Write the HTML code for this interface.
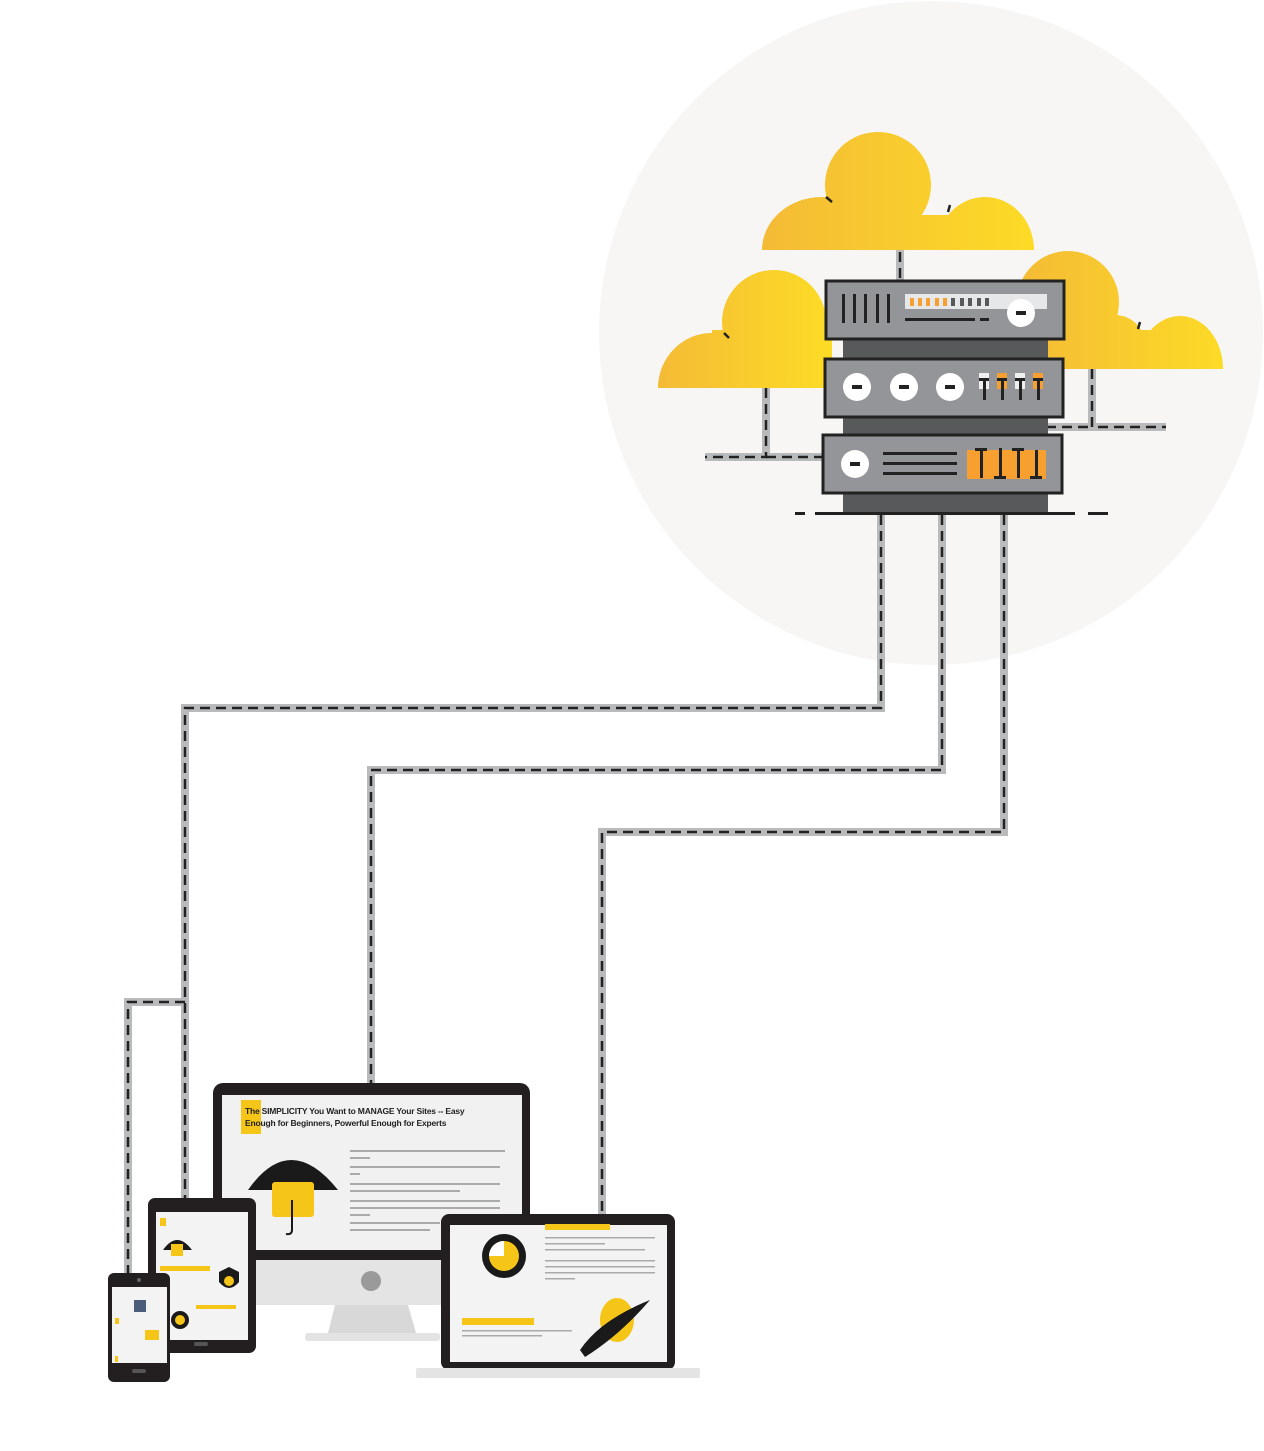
<!DOCTYPE html>
<html><head><meta charset="utf-8"><style>
html,body{margin:0;padding:0;background:#fff;}
svg{display:block;font-family:"Liberation Sans",sans-serif;}
</style></head><body>
<svg width="1264" height="1451" viewBox="0 0 1264 1451" xmlns="http://www.w3.org/2000/svg">
<defs>
<linearGradient id="g1" gradientUnits="userSpaceOnUse" x1="762" x2="1034" y1="0" y2="0"><stop offset="0" stop-color="#f4bb36"/><stop offset="1" stop-color="#fcdb26"/></linearGradient>
<linearGradient id="g2" gradientUnits="userSpaceOnUse" x1="658" x2="826" y1="0" y2="0"><stop offset="0" stop-color="#f4bb36"/><stop offset="1" stop-color="#fcdb26"/></linearGradient>
<linearGradient id="g3" gradientUnits="userSpaceOnUse" x1="1017" x2="1223" y1="0" y2="0"><stop offset="0" stop-color="#f4bb36"/><stop offset="1" stop-color="#fcdb26"/></linearGradient>
<clipPath id="c1"><rect x="700" y="100" width="400" height="150"/></clipPath>
<clipPath id="c2"><rect x="640" y="250" width="200" height="138"/></clipPath>
<clipPath id="c3"><rect x="1000" y="230" width="240" height="139"/></clipPath>
</defs>
<circle cx="931" cy="333" r="332" fill="#f7f6f4"/>
<g fill="none" stroke-linejoin="miter">
<g stroke="#b9babc" stroke-width="8">
<path d="M881 515 V708 H185 V1200"/><path d="M185 1002 H128 V1275"/>
<path d="M942 515 V770 H371 V1083"/>
<path d="M1004 515 V832 H602 V1215"/>
<path d="M900 250 V282"/><path d="M766 388 V457 H705"/><path d="M766 457 H826"/>
<path d="M1092 369 V427 H1166"/><path d="M1046 427 H1092"/>
</g>
<g stroke="#222" stroke-width="2.5" stroke-dasharray="10 6">
<path d="M881 515 V708 H185 V1200"/><path d="M185 1002 H128 V1275"/>
<path d="M942 515 V770 H371 V1083"/>
<path d="M1004 515 V832 H602 V1215"/>
<path d="M900 252 V282"/><path d="M766 388 V457 H705"/><path d="M766 457 H826"/>
<path d="M1092 369 V427 H1166"/><path d="M1046 427 H1092"/>
</g>
</g>
<!-- clouds -->
<g clip-path="url(#c1)" fill="url(#g1)"><circle cx="878" cy="185" r="53"/><ellipse cx="822" cy="250" rx="60" ry="53"/><ellipse cx="985" cy="250" rx="49" ry="53"/><rect x="820" y="215" width="170" height="40"/></g>
<g clip-path="url(#c2)" fill="url(#g2)"><circle cx="774" cy="322" r="52"/><ellipse cx="712" cy="388" rx="54" ry="55"/><rect x="712" y="330" width="120" height="60"/></g>
<g clip-path="url(#c3)" fill="url(#g3)"><circle cx="1068" cy="302" r="51"/><ellipse cx="1180" cy="369" rx="43" ry="53"/><ellipse cx="1115" cy="345" rx="30" ry="30"/><rect x="1017" y="330" width="170" height="40"/></g>
<g stroke="#222" stroke-width="2.5"><path d="M826 197 l6 5"/><path d="M950 205 l-2 7"/><path d="M724 333 l5 5"/><path d="M1140 322 l-2 7"/></g>
<!-- server -->
<rect x="843" y="336" width="205" height="178" fill="#58595b"/>
<g fill="#939598" stroke="#222" stroke-width="3">
<rect x="826" y="281" width="238" height="58"/><rect x="825" y="359" width="238" height="58"/><rect x="823" y="435" width="239" height="58"/>
</g>
<g fill="#222"><rect x="842" y="294" width="3" height="29"/><rect x="853" y="294" width="3" height="29"/><rect x="864" y="294" width="3" height="29"/><rect x="876" y="294" width="3" height="29"/><rect x="887" y="294" width="3" height="29"/></g>
<rect x="905" y="294" width="142" height="15" fill="#e6e7e8"/>
<g fill="#f7a030"><rect x="910" y="298" width="4" height="8"/><rect x="918" y="298" width="4" height="8"/><rect x="926" y="298" width="4" height="8"/><rect x="935" y="298" width="4" height="8"/><rect x="943" y="298" width="4" height="8"/></g>
<g fill="#58595b"><rect x="951" y="298" width="4" height="8"/><rect x="960" y="298" width="4" height="8"/><rect x="968" y="298" width="4" height="8"/><rect x="977" y="298" width="4" height="8"/><rect x="985" y="298" width="4" height="8"/></g>
<rect x="905" y="318" width="70" height="3" fill="#222"/><rect x="980" y="318" width="9" height="3" fill="#222"/>
<g fill="#fff"><circle cx="1021" cy="313" r="14"/><circle cx="857" cy="387" r="14"/><circle cx="904" cy="387" r="14"/><circle cx="950" cy="387" r="14"/><circle cx="855" cy="464" r="14"/></g>
<g fill="#222"><rect x="1016" y="311" width="10" height="4"/><rect x="852" y="385" width="10" height="4"/><rect x="899" y="385" width="10" height="4"/><rect x="945" y="385" width="10" height="4"/><rect x="850" y="462" width="10" height="4"/></g>
<g><rect x="979" y="373" width="10" height="16" fill="#eee"/><rect x="997" y="373" width="10" height="16" fill="#f7a030"/><rect x="1015" y="373" width="10" height="16" fill="#eee"/><rect x="1033" y="373" width="10" height="16" fill="#f7a030"/></g>
<g fill="#222"><rect x="979" y="378" width="10" height="3"/><rect x="983" y="378" width="3" height="22"/><rect x="997" y="378" width="10" height="3"/><rect x="1001" y="378" width="3" height="22"/><rect x="1015" y="378" width="10" height="3"/><rect x="1019" y="378" width="3" height="22"/><rect x="1033" y="378" width="10" height="3"/><rect x="1037" y="378" width="3" height="22"/></g>
<g fill="#222"><rect x="883" y="452" width="74" height="3"/><rect x="883" y="462" width="74" height="3"/><rect x="883" y="472" width="74" height="3"/></g>
<rect x="967" y="450" width="79" height="29" fill="#f7a030"/>
<g fill="#222"><rect x="975" y="448" width="12" height="3"/><rect x="980" y="448" width="3" height="30"/><rect x="994" y="476" width="12" height="3"/><rect x="999" y="448" width="3" height="30"/><rect x="1012" y="448" width="12" height="3"/><rect x="1017" y="448" width="3" height="30"/><rect x="1030" y="476" width="12" height="3"/><rect x="1035" y="450" width="3" height="28"/></g>
<g fill="#222"><rect x="795" y="512" width="10" height="3"/><rect x="815" y="512" width="260" height="3"/><rect x="1088" y="512" width="20" height="3"/></g>
<!-- monitor -->
<rect x="213" y="1083" width="317" height="180" rx="10" fill="#231f20"/>
<rect x="222" y="1095" width="300" height="155" fill="#f1f1f1"/>
<rect x="222" y="1260" width="300" height="45" fill="#e4e4e4"/>
<circle cx="371" cy="1281" r="10" fill="#9a9a9a"/>
<path d="M335 1305 H408 L416 1333 H328 Z" fill="#d8d8d8"/>
<rect x="305" y="1333" width="135" height="8" rx="3" fill="#e3e3e3"/>
<rect x="241" y="1100" width="20" height="34" fill="#f5c518"/>
<text x="245" y="1114" font-size="8.5" fill="#222" font-weight="bold" letter-spacing="-0.2">The SIMPLICITY You Want to MANAGE Your Sites -- Easy</text>
<text x="245" y="1126" font-size="8.5" fill="#222" font-weight="bold" letter-spacing="-0.2">Enough for Beginners, Powerful Enough for Experts</text>
<path d="M248 1190 Q290 1130 338 1190 Z" fill="#1a1a1a"/>
<rect x="272" y="1182" width="42" height="35" rx="3" fill="#f5c518"/>
<path d="M292 1200 V1230 q0 5 -6 4" stroke="#1a1a1a" fill="none" stroke-width="2"/>
<g fill="#aaa"><rect x="350" y="1150" width="155" height="2"/><rect x="350" y="1157" width="20" height="2"/><rect x="350" y="1166" width="150" height="2"/><rect x="350" y="1173" width="10" height="2"/><rect x="350" y="1183" width="150" height="2"/><rect x="350" y="1190" width="110" height="2"/><rect x="350" y="1200" width="150" height="2"/><rect x="350" y="1207" width="150" height="2"/><rect x="350" y="1214" width="20" height="2"/><rect x="350" y="1222" width="90" height="2"/><rect x="350" y="1229" width="80" height="2"/></g>
<!-- tablet -->
<rect x="148" y="1198" width="108" height="155" rx="7" fill="#231f20"/>
<rect x="156" y="1212" width="92" height="128" fill="#f3f3f3"/>
<rect x="160" y="1218" width="6" height="8" fill="#f5c518"/>
<path d="M163 1250 Q177 1230 192 1250 Z" fill="#1a1a1a"/><rect x="171" y="1244" width="12" height="12" fill="#f5c518"/>
<rect x="160" y="1266" width="50" height="5" fill="#f5c518"/>
<path d="M219 1272 l10 -5 10 5 v10 q-10 12 -20 0 Z" fill="#1a1a1a"/><circle cx="229" cy="1281" r="5" fill="#f5c518"/>
<circle cx="180" cy="1320" r="9" fill="#1a1a1a"/><circle cx="180" cy="1320" r="5" fill="#f5c518"/>
<rect x="196" y="1305" width="40" height="4" fill="#f5c518"/>
<rect x="194" y="1342" width="14" height="4" rx="2" fill="#555"/>
<!-- phone -->
<rect x="108" y="1273" width="62" height="109" rx="6" fill="#231f20"/>
<rect x="112" y="1287" width="55" height="76" fill="#f3f3f3"/>
<circle cx="139" cy="1280" r="2" fill="#666"/>
<rect x="134" y="1300" width="12" height="12" fill="#4b5d7a"/>
<rect x="115" y="1318" width="4" height="6" fill="#f5c518"/><rect x="145" y="1330" width="14" height="10" fill="#f5c518"/>
<rect x="115" y="1356" width="3" height="6" fill="#f5c518"/>
<rect x="132" y="1369" width="14" height="4" rx="2" fill="#555"/>
<!-- laptop -->
<rect x="441" y="1214" width="234" height="156" rx="8" fill="#231f20"/>
<rect x="450" y="1225" width="217" height="137" fill="#f3f3f3"/>
<rect x="416" y="1368" width="284" height="10" rx="2" fill="#e4e4e4"/>
<circle cx="504" cy="1256" r="22" fill="#1a1a1a"/><circle cx="504" cy="1256" r="15" fill="#f5c518"/>
<path d="M504 1256 V1241 A15 15 0 0 0 489 1256 Z" fill="#fff"/>
<rect x="545" y="1224" width="65" height="6" fill="#f5c518"/>
<g fill="#aaa"><rect x="545" y="1237" width="110" height="1.5"/><rect x="545" y="1243" width="60" height="1.5"/><rect x="545" y="1249" width="100" height="1.5"/><rect x="545" y="1260" width="110" height="1.5"/><rect x="545" y="1266" width="110" height="1.5"/><rect x="545" y="1272" width="110" height="1.5"/><rect x="545" y="1278" width="30" height="1.5"/><rect x="462" y="1330" width="110" height="1.5"/><rect x="462" y="1335" width="80" height="1.5"/></g>
<rect x="462" y="1318" width="72" height="7" fill="#f5c518"/>
<ellipse cx="617" cy="1320" rx="17" ry="22" fill="#f5c518"/>
<path d="M580 1350 Q600 1320 650 1300 Q620 1335 585 1357 Z" fill="#1a1a1a"/>
</svg>
</body></html>
